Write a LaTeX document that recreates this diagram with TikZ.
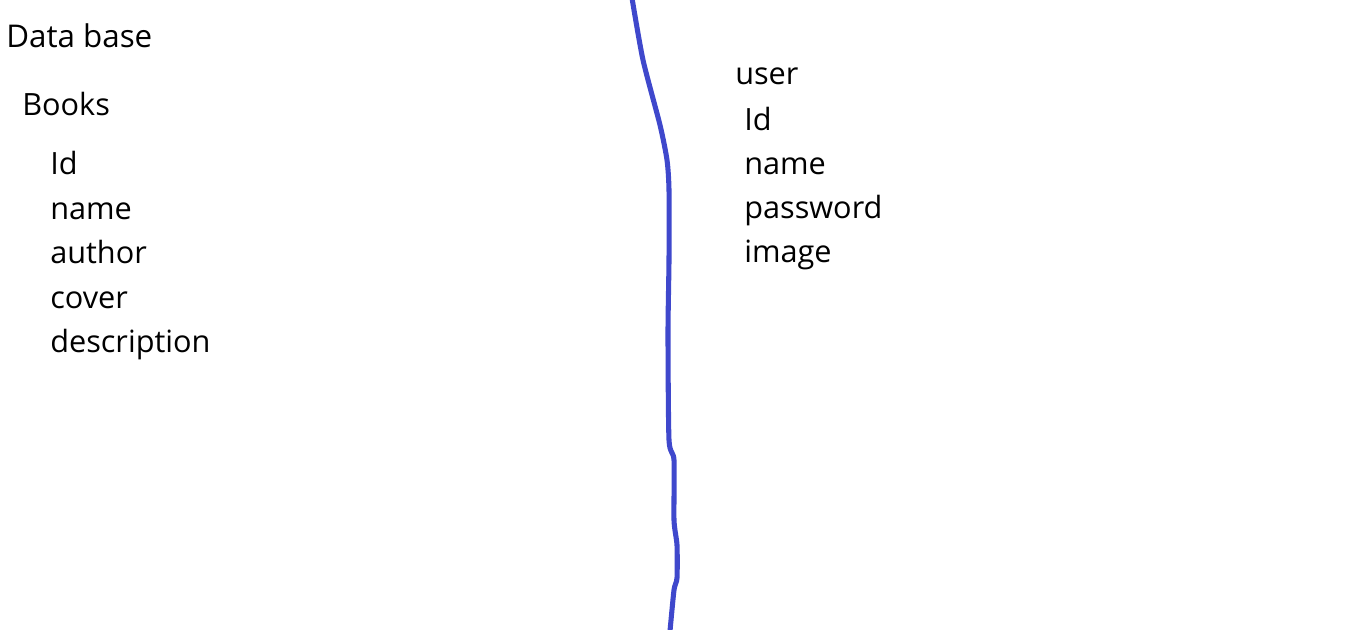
\documentclass[tikz,border=0pt]{standalone}
\usepackage{fontspec}
\setmainfont{Open Sans}
\definecolor{penblue}{RGB}{63,72,204}
\begin{document}
\begin{tikzpicture}[
    x=0.75pt, y=-0.75pt,
    every node/.style={anchor=base west, inner sep=0pt, font=\fontsize{23}{27}\selectfont},
    heading/.style={font=\fontsize{23.5}{28}\selectfont},
    pen/.style={penblue, line width=3.8pt, line cap=round, line join=round}
]
\useasboundingbox (0,0) rectangle (1350,629);
% left side: books table
\node[heading] (dbtitle) at (6,47) {Data base};
\node (books) at (22,115) {Books};
\node (bookid) at (50,174) {Id};
\node (bookname) at (50,219) {name};
\node (bookauthor) at (50,263) {author};
\node (bookcover) at (50,308) {cover};
\node (bookdesc) at (50,352) {description};
% right side: user table
\node (user) at (735,84) {user};
\node (userid) at (744,130) {Id};
\node (username) at (744,174) {name};
\node (userpass) at (744,218) {password};
\node (userimage) at (744,262) {image};
% divider
\draw[pen] plot[smooth, tension=0.4] coordinates {(632,-2) (643,60) (660,125) (667,160) (669,190) (669,260) (668,333) (669,440) (674,460) (674,520) (677,545) (677,578) (674,590) (670,631)};
\end{tikzpicture}
\end{document}
